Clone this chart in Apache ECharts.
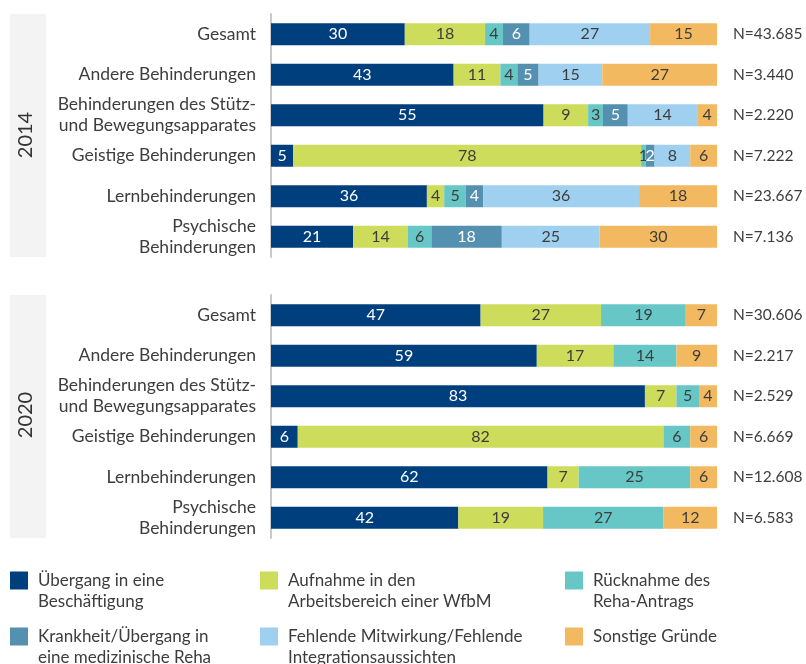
<!DOCTYPE html>
<html>
<head>
<meta charset="utf-8">
<script src="https://cdn.jsdelivr.net/npm/echarts@6/dist/echarts.min.js"></script>
<style>
    html, body { margin: 0; background: #fff; }
    #chart { width: 806px; height: 664px; }
</style>
</head>
<body>
<div id="chart"></div>
<script>
    const categories = ['Gesamt', 'Andere Behinderungen', 'Behinderungen des Stütz-\nund Bewegungsapparates',
        'Geistige Behinderungen', 'Lernbehinderungen', 'Psychische\nBehinderungen'];
    const n2014 = ['N=43.685', 'N=3.440', 'N=2.220', 'N=7.222', 'N=23.667', 'N=7.136'];
    const n2020 = ['N=30.606', 'N=2.217', 'N=2.529', 'N=6.669', 'N=12.608', 'N=6.583'];

    const seriesNames = ['Übergang', 'Aufnahme', 'Rücknahme', 'Krankheit', 'Mitwirkung', 'Sonstige'];
    const legendLabels = ['Übergang in eine\nBeschäftigung', 'Aufnahme in den\nArbeitsbereich einer WfbM',
        'Rücknahme des\nReha-Antrags', 'Krankheit/Übergang in\neine medizinische Reha',
        'Fehlende Mitwirkung/Fehlende\nIntegrationsaussichten', 'Sonstige Gründe'];
    const colors = ['#003f7e', '#cddc5b', '#66c7c6', '#5491b0', '#9fd0ef', '#f3b961'];

    // 2014
    const uebergang2014 = [30, 43, 55, 5, 36, 21];
    const aufnahme2014 = [18, 11, 9, 78, 4, 14];
    const ruecknahme2014 = [4, 4, 3, 1, 5, 6];
    const krankheit2014 = [6, 5, 5, 2, 4, 18];
    const mitwirkung2014 = [27, 15, 14, 8, 36, 25];
    const sonstige2014 = [15, 27, 4, 6, 18, 30];

    // 2020
    const uebergang2020 = [47, 59, 83, 6, 62, 42];
    const aufnahme2020 = [27, 17, 7, 82, 7, 19];
    const ruecknahme2020 = [19, 14, 5, 6, 25, 27];
    const sonstige2020 = [7, 9, 4, 6, 6, 12];

    const textColor = '#3d3d3d';
    const font = 'Lato';

    function rowSums(arrays) {
        return categories.map((c, i) => arrays.reduce((s, a) => s + a[i], 0));
    }

    // bars fill the full row, labels keep the printed values
    function makeSeries(name, values, sums, axisIdx) {
        const idx = seriesNames.indexOf(name);
        return {
            name: name,
            type: 'bar',
            stack: 'y' + axisIdx,
            xAxisIndex: axisIdx,
            yAxisIndex: axisIdx * 2,
            barWidth: 22,
            itemStyle: { color: colors[idx] },
            label: {
                show: true,
                position: 'inside',
                fontFamily: font,
                fontSize: 16,
                color: (idx === 0 || idx === 3) ? '#fff' : textColor,
                formatter: p => values[p.dataIndex]
            },
            data: values.map((v, i) => v / sums[i] * 100)
        };
    }

    const sums2014 = rowSums([uebergang2014, aufnahme2014, ruecknahme2014, krankheit2014, mitwirkung2014, sonstige2014]);
    const sums2020 = rowSums([uebergang2020, aufnahme2020, ruecknahme2020, sonstige2020]);

    const series = [
        makeSeries('Übergang', uebergang2014, sums2014, 0),
        makeSeries('Aufnahme', aufnahme2014, sums2014, 0),
        makeSeries('Rücknahme', ruecknahme2014, sums2014, 0),
        makeSeries('Krankheit', krankheit2014, sums2014, 0),
        makeSeries('Mitwirkung', mitwirkung2014, sums2014, 0),
        makeSeries('Sonstige', sonstige2014, sums2014, 0),
        makeSeries('Übergang', uebergang2020, sums2020, 1),
        makeSeries('Aufnahme', aufnahme2020, sums2020, 1),
        makeSeries('Rücknahme', ruecknahme2020, sums2020, 1),
        makeSeries('Sonstige', sonstige2020, sums2020, 1)
    ];

    function yAxes(gridIdx, nLabels) {
        return [{
            type: 'category',
            gridIndex: gridIdx,
            inverse: true,
            data: categories,
            axisLine: { show: true, lineStyle: { color: '#c9c9c9', width: 2 } },
            axisTick: { show: false },
            axisLabel: { fontFamily: font, fontSize: 17.5, lineHeight: 21, color: textColor, margin: 15 }
        }, {
            type: 'category',
            gridIndex: gridIdx,
            inverse: true,
            position: 'right',
            data: nLabels,
            axisLine: { show: false },
            axisTick: { show: false },
            axisLabel: { fontFamily: font, fontSize: 15.5, color: textColor, margin: 16 }
        }];
    }

    // one legend per entry; a leading empty line keeps the square level with the first text line
    function legend(name, left, top) {
        const label = legendLabels[seriesNames.indexOf(name)];
        return {
            left: left,
            top: top,
            padding: 0,
            itemWidth: 18,
            itemHeight: 18,
            icon: 'rect',
            selectedMode: false,
            data: [name],
            formatter: () => label.indexOf('\n') >= 0 ? '\n' + label : label,
            textStyle: { fontFamily: font, fontSize: 17, lineHeight: 21, color: textColor, padding: [0, 0, 0, 5] }
        };
    }

    const chart = echarts.init(document.getElementById('chart'));
    chart.setOption({
        animation: false,
        grid: [
            { left: 271, width: 446, top: 14, height: 243 },
            { left: 271, width: 446, top: 295, height: 243 }
        ],
        xAxis: [
            { type: 'value', gridIndex: 0, min: 0, max: 100, show: false },
            { type: 'value', gridIndex: 1, min: 0, max: 100, show: false }
        ],
        yAxis: yAxes(0, n2014).concat(yAxes(1, n2020)),
        legend: [
            legend('Übergang', 10, 549),
            legend('Aufnahme', 260, 549),
            legend('Rücknahme', 565, 549),
            legend('Krankheit', 10, 605),
            legend('Mitwirkung', 260, 605),
            legend('Sonstige', 565, 626)
        ],
        graphic: [
            { type: 'rect', left: 10, top: 14, shape: { width: 36, height: 243 }, style: { fill: '#f3f3f3' } },
            { type: 'rect', left: 10, top: 295, shape: { width: 36, height: 243 }, style: { fill: '#f3f3f3' } },
            { type: 'text', x: 26, y: 135, rotation: Math.PI / 2,
              style: { text: '2014', fontFamily: font, fontSize: 20, fill: '#333', align: 'center', verticalAlign: 'middle' } },
            { type: 'text', x: 26, y: 415, rotation: Math.PI / 2,
              style: { text: '2020', fontFamily: font, fontSize: 20, fill: '#333', align: 'center', verticalAlign: 'middle' } }
        ],
        series: series
    });
</script>
</body>
</html>
